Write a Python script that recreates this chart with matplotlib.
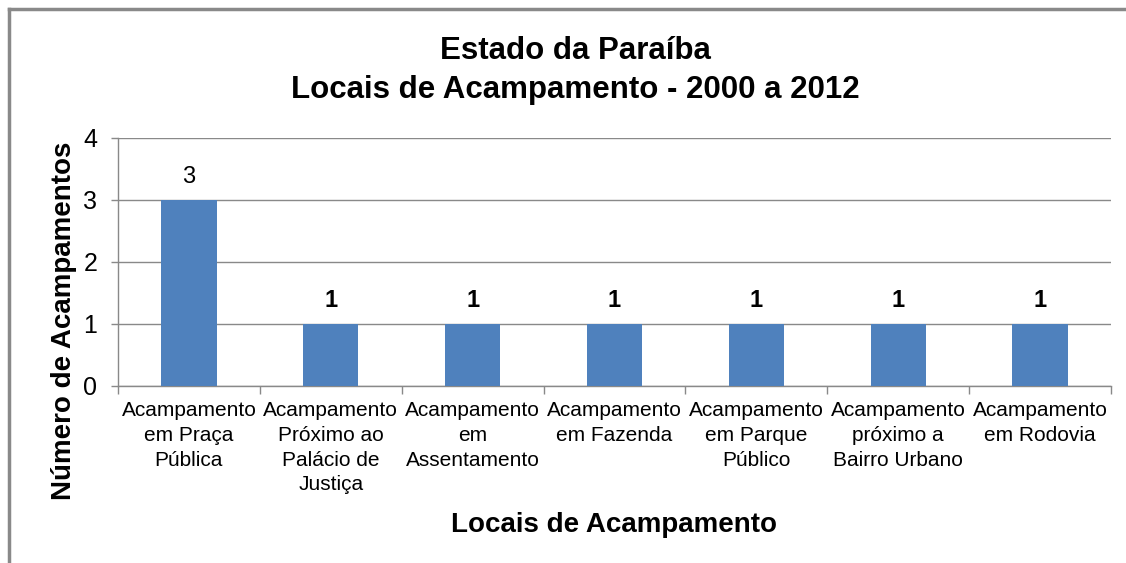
import matplotlib.pyplot as plt
from matplotlib.lines import Line2D
import numpy as np

plt.rcParams['font.family'] = ['Liberation Sans', 'DejaVu Sans']

categorias = [
    "Acampamento\nem Praça\nPública",
    "Acampamento\nPróximo ao\nPalácio de\nJustiça",
    "Acampamento\nem\nAssentamento",
    "Acampamento\nem Fazenda",
    "Acampamento\nem Parque\nPúblico",
    "Acampamento\npróximo a\nBairro Urbano",
    "Acampamento\nem Rodovia",
]
valores = [3, 1, 1, 1, 1, 1, 1]

cinza = "#898989"
W, H = 1126, 563

fig = plt.figure(figsize=(11.26, 5.63), dpi=100)
ax = fig.add_axes([0.1048, 0.3144, 0.8819, 0.4405])

x = np.arange(len(categorias))
ax.bar(x, valores, width=0.39, color="#4F81BD", zorder=3)

# rótulos dos valores
for xi, v in zip(x, valores):
    peso = "normal" if v == 3 else "bold"
    ax.text(xi, v + 0.27, str(v), ha="center", va="baseline", fontsize=17,
            fontweight=peso)

ax.set_xlim(-0.5, len(categorias) - 0.5)
ax.set_ylim(0, 4)
ax.set_yticks([0, 1, 2, 3, 4])
ax.tick_params(axis="y", labelsize=18, length=5, color=cinza, width=1, pad=10)
ax.grid(axis="y", color=cinza, linewidth=1, zorder=0)

# marcas entre categorias, rótulos no centro
ax.set_xticks(np.arange(len(categorias) + 1) - 0.5)
ax.set_xticklabels([])
ax.tick_params(axis="x", which="major", length=6, color=cinza, width=1)
ax.set_xticks(x, minor=True)
ax.set_xticklabels(categorias, minor=True, fontsize=15, linespacing=1.38)
ax.tick_params(axis="x", which="minor", length=0, pad=11)

for s in ["top", "right"]:
    ax.spines[s].set_visible(False)
for s in ["left", "bottom"]:
    ax.spines[s].set_color(cinza)
    ax.spines[s].set_linewidth(1)

fig.text(575 / W, 1 - 59 / H, "Estado da Paraíba", ha="center", va="baseline",
         fontsize=22.5, fontweight="bold")
fig.text(575 / W, 1 - 98 / H, "Locais de Acampamento - 2000 a 2012", ha="center",
         va="baseline", fontsize=22.5, fontweight="bold")
fig.text(614 / W, 1 - 532 / H, "Locais de Acampamento", ha="center", va="baseline",
         fontsize=20, fontweight="bold")
fig.text(64 / W, 1 - 321 / H, "Número de Acampamentos", ha="center", va="center",
         fontsize=20, fontweight="bold", rotation=90)

# borda do gráfico
fig.add_artist(Line2D([0.008, 1.0], [0.984, 0.984], color=cinza, linewidth=2.5))
fig.add_artist(Line2D([0.008, 0.008], [0.0, 0.984], color=cinza, linewidth=2.5))

fig.savefig("out.png", dpi=100)
